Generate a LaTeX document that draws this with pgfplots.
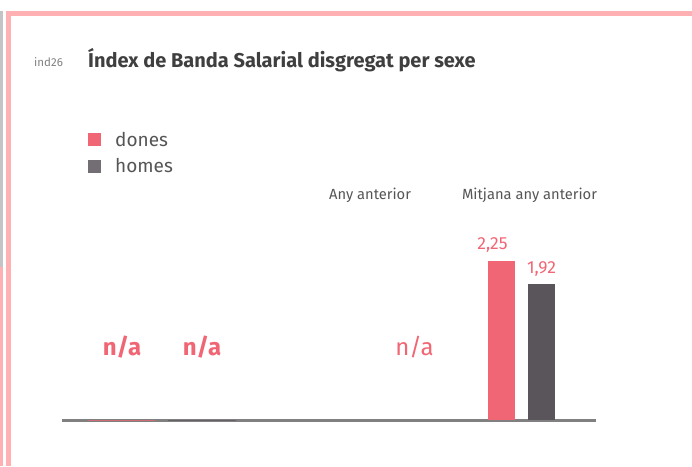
\documentclass[border=0pt]{standalone}
\usepackage{pgfplots}
\pgfplotsset{compat=1.18}
\usepackage{fontspec}
\setmainfont{Fira Sans}
\usepackage{graphicx}
\definecolor{pinkbar}{HTML}{F06674}
\definecolor{darkbar}{HTML}{5A555B}
\definecolor{axgrey}{HTML}{808080}
\definecolor{framepink}{HTML}{FFB0B3}
\definecolor{stripgrey}{HTML}{C4C4C4}
\definecolor{titlegrey}{HTML}{3F3F3F}
\definecolor{txtgrey}{HTML}{555555}
\begin{document}
\begin{tikzpicture}[x=1pt,y=1pt]
\useasboundingbox (0,0) rectangle (692,466);
% frame
\fill[stripgrey] (0,466-11) rectangle (3,466-267);
\fill[framepink] (0,466-267) rectangle (3,0);
\fill[framepink] (6,466-11) rectangle (11,0);
\fill[framepink] (6,466-11) rectangle (692,466-16);
% header
\node[anchor=base west, inner sep=0, text=axgrey, font=\fontsize{11.5}{12}\selectfont] at (34,466-67) {ind26};
\node[anchor=base west, inner sep=0, text=titlegrey, font=\fontsize{20}{24}\selectfont\bfseries] at (88,466-68) {Índex de Banda Salarial disgregat per sexe};
% legend
\fill[pinkbar] (88,466-133) rectangle (101,466-146);
\fill[darkbar!85!white] (88,466-160) rectangle (101,466-173);
\node[anchor=base west, inner sep=0, text=txtgrey, font=\fontsize{19}{22}\selectfont] at (115,466-147) {dones};
\node[anchor=base west, inner sep=0, text=txtgrey, font=\fontsize{19}{22}\selectfont] at (115,466-173) {homes};
% group labels
\node[anchor=base, inner sep=0, text=txtgrey, font=\fontsize{14.7}{16}\selectfont] at (370,466-200) {Any anterior};
\node[anchor=base, inner sep=0, text=txtgrey, font=\fontsize{14.7}{16}\selectfont] at (529.5,466-200) {Mitjana any anterior};
% n/a labels
\node[anchor=base, inner sep=0, text=pinkbar, font=\fontsize{24}{26}\selectfont\bfseries] at (122,466-355) {n/a};
\node[anchor=base, inner sep=0, text=pinkbar, font=\fontsize{24}{26}\selectfont\bfseries] at (202,466-355) {n/a};
\node[anchor=base, inner sep=0, text=pinkbar, font=\fontsize{24}{26}\selectfont] at (414.5,466-355) {n/a};
\begin{axis}[
  at={(62pt,46pt)}, anchor=south west,
  scale only axis, width=534pt, height=212pt,
  xmin=62, xmax=596, ymin=0, ymax=3,
  axis y line=none,
  axis x line*=bottom,
  axis line style={axgrey, line width=3pt},
  xtick=\empty, ytick=\empty,
  clip=false,
  ybar, bar shift=0pt,
  nodes near coords style={font=\fontsize{17.5}{19}\selectfont, text=pinkbar, inner sep=0pt, anchor=south, yshift=8pt},
  /pgf/number format/.cd, use comma, fixed, fixed zerofill, precision=2, assume math mode=true,
]
% first group: no data (n/a), zero-height bars
\addplot[fill=pinkbar, draw=pinkbar, bar width=67, line width=0.6pt] coordinates {(121.5,0)};
\addplot[fill=darkbar, draw=darkbar, bar width=68, line width=0.6pt] coordinates {(202,0)};
% Mitjana any anterior
\addplot[fill=pinkbar, draw=none, bar width=27, nodes near coords, nodes near coords style={xshift=-9pt}] coordinates {(501.5,2.25)};
\addplot[fill=darkbar, draw=none, bar width=27, nodes near coords] coordinates {(541.5,1.92)};
\end{axis}
\end{tikzpicture}
\end{document}
